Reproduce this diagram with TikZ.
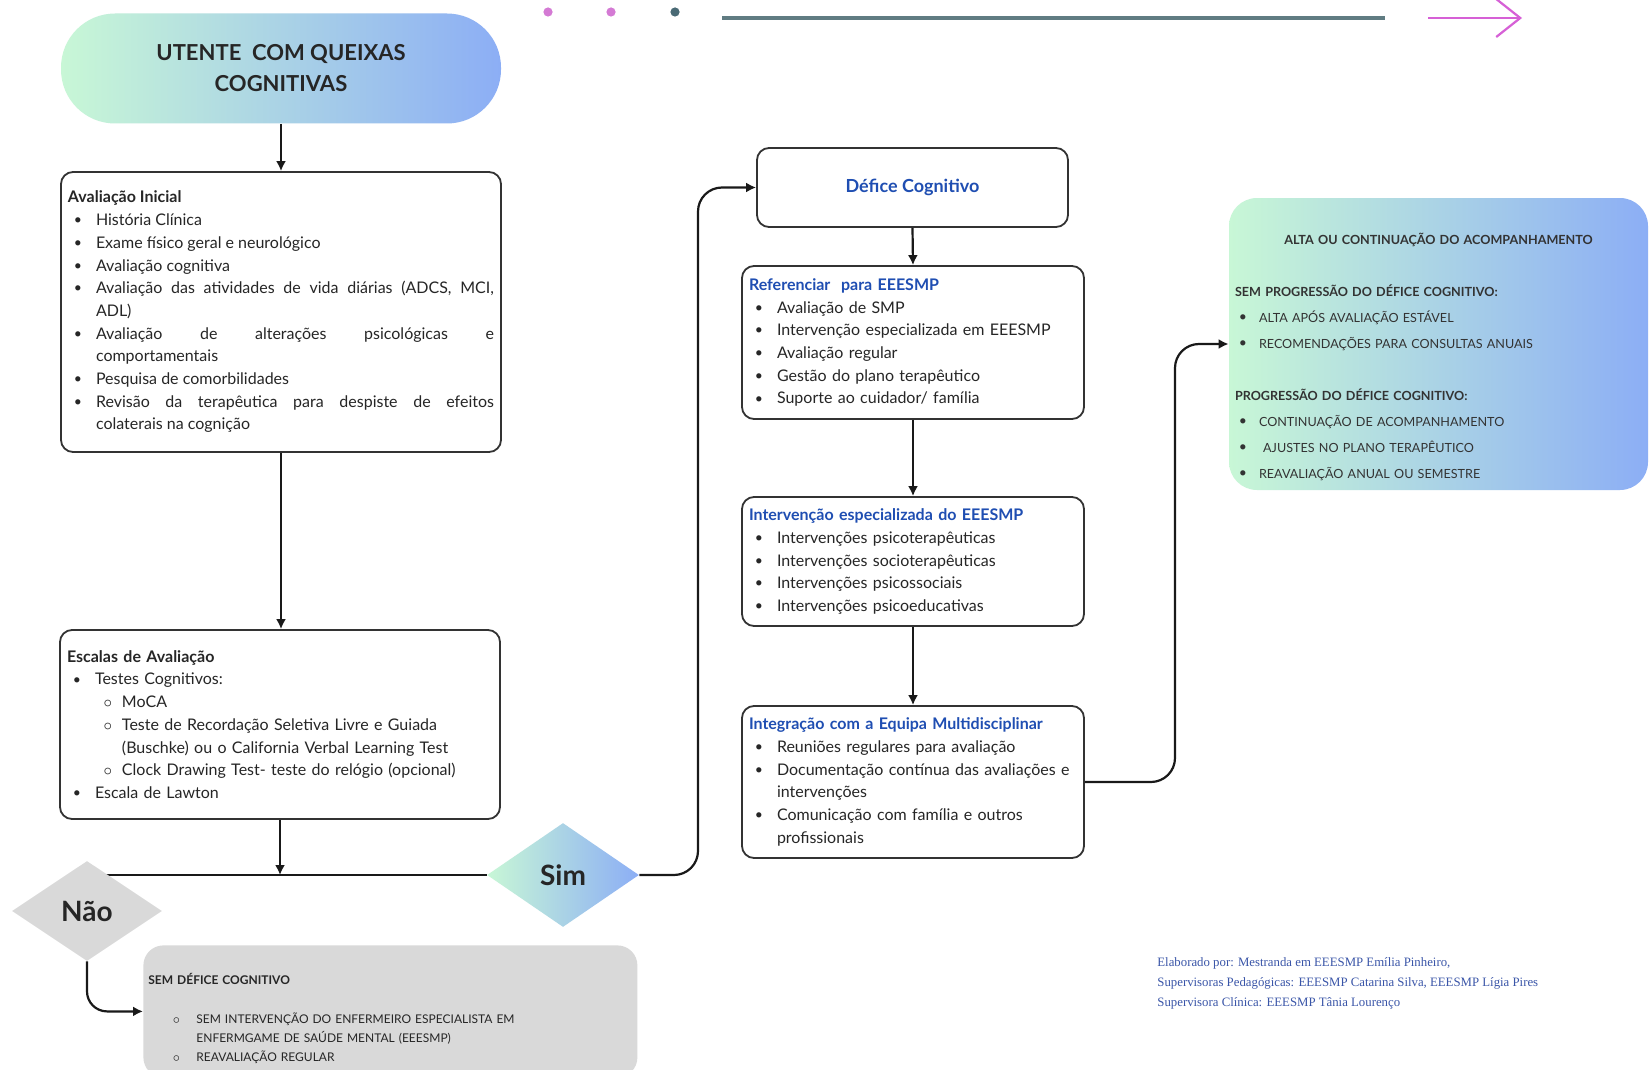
\documentclass[tikz,border=0pt]{standalone}
\usepackage{fontspec}
\setmainfont{Lato}
\newfontfamily\creditfont{Liberation Serif}
\usepackage{enumitem}
\usetikzlibrary{shapes.geometric, arrows.meta, backgrounds}

\definecolor{boxblue}{RGB}{31,78,178}
\definecolor{mint}{RGB}{200,247,214}
\definecolor{skyblue}{RGB}{140,174,245}
\definecolor{softgray}{RGB}{217,217,217}
\definecolor{dotpink}{RGB}{212,122,212}
\definecolor{dotteal}{RGB}{74,106,117}
\definecolor{rulegray}{RGB}{96,124,130}
\definecolor{arrowpink}{RGB}{214,96,214}
\definecolor{creditblue}{RGB}{58,85,168}

\setlist[itemize]{nosep}
\setlist[itemize,1]{label=\raisebox{0.1ex}{\scriptsize\textbullet}, leftmargin=14pt, labelsep=7pt}
\setlist[itemize,2]{label=$\circ$, leftmargin=13.5pt, labelsep=5pt}

\newcommand{\bluehead}[1]{{\color{boxblue}\bfseries #1}}

\begin{document}
\begin{tikzpicture}[x=0.5pt, y=-0.5pt,
    arr/.style={-{Latex[length=5pt, width=5pt]}, line width=1.1pt, black!90},
    conn/.style={line width=1.1pt, black!90},
    flowbox/.style={rectangle, draw=black!80, line width=0.9pt, rounded corners=6pt, inner xsep=3.5pt, inner ysep=3pt, align=left, font=\fontsize{8}{11.35}\selectfont, text=black!85},
    leftbox/.style={flowbox, text width=213pt, minimum height=#1},
    rightbox/.style={flowbox, text width=164pt, minimum height=#1},
    gradfill/.style={left color=mint, right color=skyblue},
    choice/.style={diamond, aspect=1.5, inner sep=0pt, minimum width=75pt, minimum height=50pt, font=\fontsize{14}{14}\bfseries\selectfont, text=black!85},
]
\useasboundingbox (0,0) rectangle (1650,1070);

% top ribbon
\fill[dotpink] (548,12) circle (2.3pt);
\fill[dotpink] (611,12) circle (2.3pt);
\fill[dotteal] (675,12) circle (2.3pt);
\draw[rulegray, line width=1.6pt] (722,18) -- (1385,18);
\draw[arrowpink, line width=1.1pt, -{Straight Barb[length=12pt, width=19pt]}] (1428,18) -- (1522,18);

% left column
\node[gradfill, rounded corners=27pt, minimum width=220pt, minimum height=55pt, align=center, font=\fontsize{11}{15.5}\bfseries\selectfont, text=black!85] (utente) at (281,68.5) {UTENTE\ \ COM QUEIXAS\\COGNITIVAS};

\node[leftbox=140pt, align=justify] (avalini) at (281,312) {%
  \textbf{Avaliação Inicial}
  \begin{itemize}
    \item História Clínica
    \item Exame físico geral e neurológico
    \item Avaliação cognitiva
    \item Avaliação das atividades de vida diárias (ADCS, MCI,\linebreak ADL)
    \item Avaliação de alterações psicológicas e\linebreak comportamentais
    \item Pesquisa de comorbilidades
    \item Revisão da terapêutica para despiste de efeitos\linebreak colaterais na cognição
  \end{itemize}};

\node[leftbox=94.5pt] (escalas) at (280,724.5) {%
  \textbf{Escalas de Avaliação}
  \begin{itemize}
    \item Testes Cognitivos:
    \begin{itemize}
      \item MoCA
      \item Teste de Recordação Seletiva Livre e Guiada\newline (Buschke) ou o California Verbal Learning Test
      \item Clock Drawing Test- teste do relógio (opcional)
    \end{itemize}
    \item Escala de Lawton
  \end{itemize}};

\node[choice, fill=softgray] (nao) at (87,911) {Não};
\node[choice, gradfill, minimum width=76pt, minimum height=52pt] (sim) at (563,875) {Sim};

\node[rectangle, fill=softgray, rounded corners=10pt, anchor=north west, inner xsep=2.5pt, text width=242pt, minimum height=66pt, align=left, font=\fontsize{6}{9.5}\selectfont, text=black!85] (semdefice) at (143,945) {%
  \begin{minipage}{\linewidth}\raggedright
  \vspace*{7.4pt}
  \textbf{SEM DÉFICE COGNITIVO}\par\vspace{10pt}
  \begin{itemize}[label=$\circ$, leftmargin=24pt, labelsep=8pt]
    \item SEM INTERVENÇÃO DO ENFERMEIRO ESPECIALISTA EM\newline ENFERMGAME DE SAÚDE MENTAL (EEESMP)
    \item REAVALIAÇÃO REGULAR
  \end{itemize}
  \end{minipage}};

% right column
\node[flowbox, align=center, minimum width=155.5pt, minimum height=39.5pt, font=\fontsize{9}{11}\selectfont] (defice) at (912.5,187.5) {\bluehead{Défice Cognitivo}};

\node[rightbox=76.5pt] (referenciar) at (913,342.5) {%
  \bluehead{Referenciar\ \ para EEESMP}
  \begin{itemize}
    \item Avaliação de SMP
    \item Intervenção especializada em EEESMP
    \item Avaliação regular
    \item Gestão do plano terapêutico
    \item Suporte ao cuidador/ família
  \end{itemize}};

\node[rightbox=64.5pt] (intervencao) at (913,561.5) {%
  \bluehead{Intervenção especializada do EEESMP}
  \begin{itemize}
    \item Intervenções psicoterapêuticas
    \item Intervenções socioterapêuticas
    \item Intervenções psicossociais
    \item Intervenções psicoeducativas
  \end{itemize}};

\node[rightbox=76pt] (integracao) at (913,782) {%
  \bluehead{Integração com a Equipa Multidisciplinar}
  \begin{itemize}
    \item Reuniões regulares para avaliação
    \item Documentação contínua das avaliações e\newline intervenções
    \item Comunicação com família e outros\newline profissionais
  \end{itemize}};

\node[gradfill, rectangle, rounded corners=14pt, inner xsep=3pt, text width=203.5pt, minimum height=146pt, align=left, font=\fontsize{6.3}{13}\selectfont, text=black!80] (alta) at (1438.5,344) {%
  \begin{minipage}{\linewidth}\raggedright
  \vspace*{12.6pt}
  \makebox[\linewidth][c]{\textbf{ALTA OU CONTINUAÇÃO DO ACOMPANHAMENTO}}\par\vspace{13pt}
  \textbf{SEM PROGRESSÃO DO DÉFICE COGNITIVO:}
  \begin{itemize}[leftmargin=12pt, labelsep=6pt]
    \item ALTA APÓS AVALIAÇÃO ESTÁVEL
    \item RECOMENDAÇÕES PARA CONSULTAS ANUAIS
  \end{itemize}\vspace{13pt}
  \textbf{PROGRESSÃO DO DÉFICE COGNITIVO:}
  \begin{itemize}[leftmargin=12pt, labelsep=6pt]
    \item CONTINUAÇÃO DE ACOMPANHAMENTO
    \item \ AJUSTES NO PLANO TERAPÊUTICO
    \item REAVALIAÇÃO ANUAL OU SEMESTRE
  \end{itemize}
  \end{minipage}};

\node[anchor=west, align=left, inner sep=0pt, text=creditblue, font=\creditfont\fontsize{6.4}{10}\selectfont] (credits) at (1157,983) {Elaborado por: Mestranda em EEESMP Emília Pinheiro,\\Supervisoras Pedagógicas: EEESMP Catarina Silva, EEESMP Lígia Pires\\Supervisora Clínica: EEESMP Tânia Lourenço};

% connectors
\coordinate (bendsim) at (698,187.5);
\coordinate (bendint) at (1175,344);

\draw[arr] (utente.south) -- (avalini.north);
\draw[arr] (avalini.south) -- (avalini.south |- escalas.north);
\draw[arr] (escalas.south) -- (escalas.south |- sim.west);
\draw[arr, rounded corners=12pt] (sim.east) -| (bendsim) -- (defice.west);
\draw[arr, rounded corners=10pt] (nao.south) |- (semdefice.west);
\draw[arr] (defice.south) -- (referenciar.north);
\draw[arr] (referenciar.south) -- (intervencao.north);
\draw[arr] (intervencao.south) -- (integracao.north);
\draw[arr, rounded corners=12pt] (integracao.east) -| (bendint) -- (alta.west);

\begin{scope}[on background layer]
  \fill[white] (0,0) rectangle (1650,1070);
  \draw[conn] (nao.center |- sim.west) -- (sim.west);
\end{scope}

\end{tikzpicture}
\end{document}
